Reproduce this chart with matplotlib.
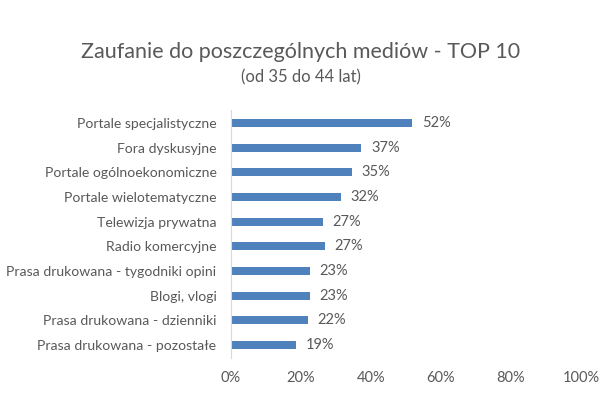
import matplotlib.pyplot as plt
from matplotlib.ticker import FuncFormatter

categories = [
    'Portale specjalistyczne',
    'Fora dyskusyjne',
    'Portale ogólnoekonomiczne',
    'Portale wielotematyczne',
    'Telewizja prywatna',
    'Radio komercyjne',
    'Prasa drukowana - tygodniki opini',
    'Blogi, vlogi',
    'Prasa drukowana - dzienniki',
    'Prasa drukowana - pozostałe',
]
values = [52, 37, 35, 32, 27, 27, 23, 23, 22, 19]
# bar lengths as drawn (labels are rounded)
lengths = [51.7, 37.2, 34.5, 31.4, 26.2, 26.8, 22.5, 22.5, 21.9, 18.5]
xticks = [0, 20, 40, 60, 80, 100]

plt.rcParams['font.family'] = ['Lato', 'DejaVu Sans']
gray = '#595959'

fig = plt.figure(figsize=(6.02, 3.93), dpi=100)
ax = fig.add_axes([231 / 602, 1 - 357.5 / 393, 350 / 602, 247 / 393])

y = list(range(len(categories)))
ax.barh(y, lengths, height=0.32, color='#4F81BD')
for yi, v, l in zip(y, values, lengths):
    ax.annotate(f'{v}%', (l, yi), xytext=(7, 0), textcoords='offset points',
                va='center', ha='left', fontsize=10.5, color=gray)

ax.set_ylim(len(categories) - 0.5, -0.5)
ax.set_xlim(0, 100)
ax.set_yticks(y)
ax.set_yticklabels(categories, fontsize=10.1, color=gray)
ax.set_xticks(xticks)
ax.xaxis.set_major_formatter(FuncFormatter(lambda v, p: f'{v:.0f}%'))
ax.tick_params(axis='x', labelsize=10.5, labelcolor=gray, length=0, pad=10)
ax.tick_params(axis='y', length=0, pad=10.5)

for s in ['top', 'right', 'bottom']:
    ax.spines[s].set_visible(False)
ax.spines['left'].set_color('#D9D9D9')

fig.text(0.5, 1 - 52 / 393, 'Zaufanie do poszczególnych mediów - TOP 10',
         ha='center', va='center', fontsize=15.5, color=gray)
fig.text(0.5, 1 - 77 / 393, '(od 35 do 44 lat)',
         ha='center', va='center', fontsize=12, color=gray)

fig.savefig('out.png', dpi=100)
